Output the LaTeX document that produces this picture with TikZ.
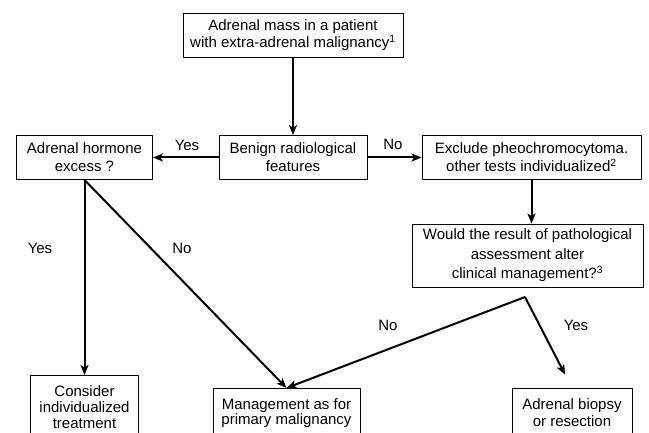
\documentclass[tikz,border=0pt]{standalone}
\usepackage{fontspec}
\setmainfont{Liberation Sans}
\usetikzlibrary{arrows.meta}
\begin{document}
\begin{tikzpicture}[x=1pt, y=-1pt, font=\fontsize{15}{18}\selectfont, line join=round, >={Stealth[length=10pt,width=8pt,inset=2.5pt]},
	box/.style={draw, line width=0.8pt, align=center, inner xsep=2pt, inner ysep=4pt},
	openbox/.style={box, anchor=north, inner ysep=10pt, text depth=30pt},
	arr/.style={->, line width=2pt}]
	\useasboundingbox (0,0) rectangle (649,433);
	\clip (0,0) rectangle (649,433);
	% boxes
	\node[box, minimum width=220pt, minimum height=44pt, font=\fontsize{15}{17}\selectfont] (mass) at (293,35) {Adrenal mass in a patient\\with extra-adrenal malignancy\textsuperscript{1}};
	\node[box, minimum width=148pt, minimum height=44pt] (benign) at (293,157.5) {Benign radiological\\features};
	\node[box, minimum width=136pt, minimum height=44pt] (hormone) at (84.5,157.5) {Adrenal hormone\\excess ?};
	\node[box, minimum width=219pt, minimum height=44pt] (exclude) at (531.5,157.5) {Exclude pheochromocytoma.\\other tests individualized\textsuperscript{2}};
	\node[box, minimum width=231pt, minimum height=63pt, font=\fontsize{15}{19.5}\selectfont] (would) at (527.5,255.5) {Would the result of pathological\\assessment alter\\clinical management?\textsuperscript{3}};
	\node[openbox, minimum width=108pt, font=\fontsize{15}{16}\selectfont] (consider) at (84.5,375) {Consider\\individualized\\treatment};
	\node[openbox, minimum width=147pt, font=\fontsize{15}{15.5}\selectfont] (mgmt) at (286.5,388) {Management as for\\primary malignancy};
	\node[openbox, minimum width=120pt, font=\fontsize{15}{17}\selectfont] (biopsy) at (572,388) {Adrenal biopsy\\or resection};
	\coordinate (split) at (525,297);
	% arrows
	\draw[arr] (mass.south) -- (mass.south |- benign.north);
	\draw[arr] (benign) -- (hormone);
	\draw[arr] (benign) -- (exclude);
	\draw[arr] (exclude.south) -- (exclude.south |- would.north);
	\draw[arr] (hormone.south) -- (consider.north);
	\draw[arr] (hormone.south) -- (mgmt.north);
	\draw[arr] (split) -- (mgmt.north);
	\draw[arr, shorten >=15pt] (split) -- (biopsy.north);
	% labels
	\node (yes1) at (187,145) {Yes};
	\node (no1) at (393,144) {No};
	\node (yes2) at (40,248) {Yes};
	\node (no2) at (182,248) {No};
	\node (no3) at (388,325) {No};
	\node (yes3) at (576,325) {Yes};
\end{tikzpicture}
\end{document}
